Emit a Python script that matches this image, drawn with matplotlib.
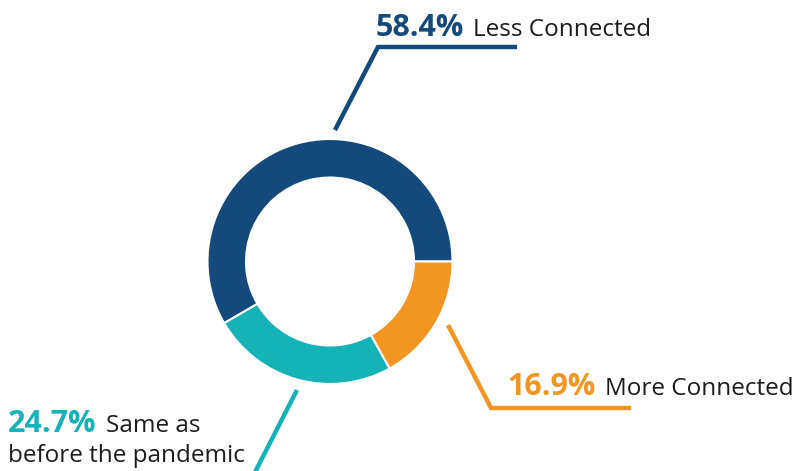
import matplotlib.pyplot as plt

# Share of respondents by how connected they feel
labels = ['Less Connected', 'Same as', 'More Connected']
extra_line = 'before the pandemic'
shares = [58.4, 24.7, 16.9]
colors = ['#14497c', '#15b2b8', '#f29521']

W, H = 794, 471
fig = plt.figure(figsize=(W / 100, H / 100), dpi=100)
ax = fig.add_axes([0, 0, 1, 1])

ax.pie(shares, colors=colors, startangle=0, counterclock=True,
       center=(330, H - 261.5), radius=122.5,
       wedgeprops=dict(width=38.5, edgecolor='white', linewidth=1.5))
ax.set_xlim(0, W)
ax.set_ylim(0, H)
ax.set_aspect('equal')
ax.axis('off')

font = 'Open Sans'
dark = '#1c1c1c'

# leader lines (pixel coords measured from top)
leaders = [
    [(335, 130), (378, 47), (517, 47)],
    [(297, 390), (252, 478)],
    [(448, 325), (491, 408), (631, 408)],
]
for pts, c in zip(leaders, colors):
    xs = [p[0] for p in pts]
    ys = [H - p[1] for p in pts]
    ax.plot(xs, ys, color=c, lw=3.2, solid_capstyle='butt', solid_joinstyle='miter')

# label positions: (pct x, name x, baseline y)
pos = [(376, 473, 36), (8, 106, 432), (507, 605, 395)]
for (px, nx, by), s, lab, c in zip(pos, shares, labels, colors):
    ax.text(px, H - by, f'{s}%', color=c, fontsize=22, fontweight='bold',
            family=font, ha='left', va='baseline')
    ax.text(nx, H - by, lab, color=dark, fontsize=17.5, family=font,
            ha='left', va='baseline')
ax.text(8, H - 462, extra_line, color=dark, fontsize=17.5, family=font,
        ha='left', va='baseline')

fig.savefig('out.png', dpi=100)
